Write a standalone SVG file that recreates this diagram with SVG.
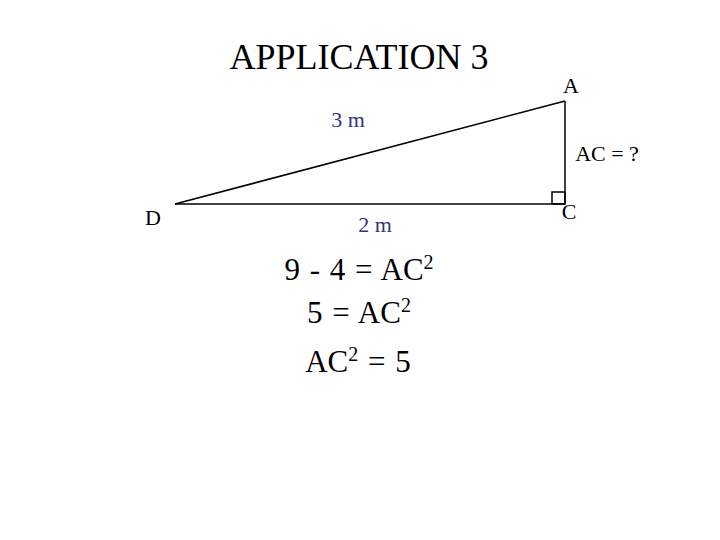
<svg xmlns="http://www.w3.org/2000/svg" width="720" height="540" viewBox="0 0 720 540">
<style>
.t{font-family:"Liberation Serif","Times New Roman",serif;fill:#000}
.b{font-family:"Liberation Serif","Times New Roman",serif;fill:#333380}
.ln{stroke:#000;stroke-width:1.5;fill:none}
.eq{font-size:31px;word-spacing:2px}
</style>
<rect width="720" height="540" fill="#fff"/>
<text class="t" x="359" y="69" font-size="36" text-anchor="middle">APPLICATION 3</text>
<g id="connectors">
<line class="ln" x1="175" y1="204" x2="565" y2="101"/>
<line class="ln" x1="175" y1="204" x2="565" y2="204"/>
<line class="ln" x1="565" y1="101" x2="565" y2="204"/>
<rect class="ln" x="552" y="192" width="13" height="12" stroke-width="1"/>
</g>
<g id="A"><text class="t" x="571" y="93" font-size="22" text-anchor="middle">A</text></g>
<g id="C"><text class="t" x="569" y="219" font-size="22" text-anchor="middle">C</text></g>
<g id="D"><text class="t" x="153" y="225" font-size="22" text-anchor="middle">D</text></g>
<text class="b" x="348" y="127" font-size="22" text-anchor="middle">3 m</text>
<text class="b" x="375" y="232" font-size="22" text-anchor="middle">2 m</text>
<text class="t" x="607" y="161" font-size="22" text-anchor="middle">AC = ?</text>
<text class="t eq" x="359" y="280" text-anchor="middle">9 - 4 = AC<tspan font-size="20" dy="-11">2</tspan></text>
<text class="t eq" x="359" y="323" text-anchor="middle">5 = AC<tspan font-size="20" dy="-11">2</tspan></text>
<text class="t eq" x="358" y="372" text-anchor="middle">AC<tspan font-size="20" dy="-11">2</tspan><tspan dy="11"> = 5</tspan></text>
</svg>
